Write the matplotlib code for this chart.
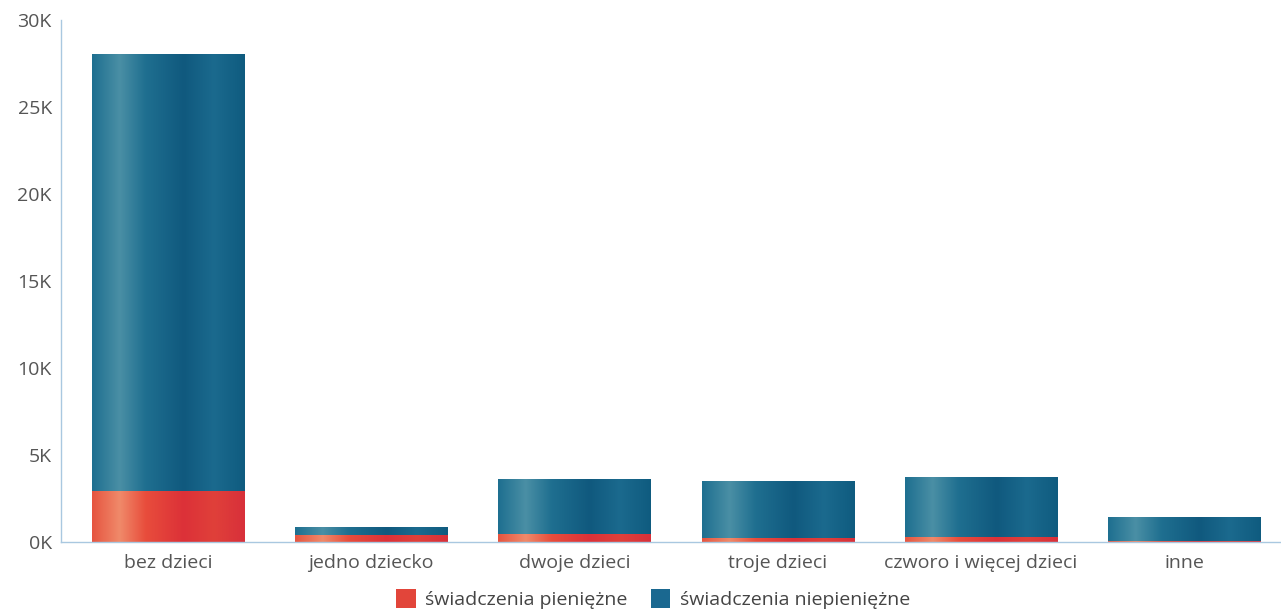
import numpy as np
import matplotlib
matplotlib.use("Agg")
import matplotlib.pyplot as plt
from matplotlib.colors import LinearSegmentedColormap
from matplotlib.patches import Patch

categories = ["bez dzieci", "jedno dziecko", "dwoje dzieci", "troje dzieci",
              "czworo i więcej dzieci", "inne"]
pieniezne = [2900, 350, 450, 200, 250, 50]
niepieniezne = [25100, 500, 3150, 3300, 3450, 1350]
series_names = ["świadczenia pieniężne", "świadczenia niepieniężne"]
yticks = [0, 5000, 10000, 15000, 20000, 25000, 30000]
ytick_labels = ["0K", "5K", "10K", "15K", "20K", "25K", "30K"]

plt.rcParams['font.family'] = ['Open Sans', 'DejaVu Sans']

blue_cmap = LinearSegmentedColormap.from_list(
    "b", [(0.0, "#1e6f90"), (0.18, "#4a8fa5"), (0.35, "#1f6f90"),
          (0.6, "#10597e"), (0.8, "#1b6a8e"), (1.0, "#0f5b7f")])
red_cmap = LinearSegmentedColormap.from_list(
    "r", [(0.0, "#e65440"), (0.18, "#f08a6a"), (0.35, "#e84d3c"),
          (0.6, "#dc3138"), (0.8, "#e0403a"), (1.0, "#d8303a")])

fig = plt.figure(figsize=(12.81, 6.14), dpi=100)
ax = fig.add_axes([0.048, 0.118, 0.952, 0.85])

x = np.arange(len(categories))
width = 0.75
grad = np.linspace(0, 1, 256).reshape(1, -1)

def gradient_bars(bars, cmap):
    for b in bars:
        bx, by = b.get_x(), b.get_y()
        bw, bh = b.get_width(), b.get_height()
        if bh <= 0:
            continue
        im = ax.imshow(grad, cmap=cmap, aspect='auto',
                       extent=[bx, bx + bw, by, by + bh], zorder=2,
                       interpolation='bicubic')
        im.set_clip_path(b)

b1 = ax.bar(x, pieniezne, width, color="none", edgecolor="none", zorder=3)
b2 = ax.bar(x, niepieniezne, width, bottom=pieniezne, color="none",
            edgecolor="none", zorder=3)
gradient_bars(b1, red_cmap)
gradient_bars(b2, blue_cmap)

ax.set_xlim(-0.524, 5.476)
ax.set_ylim(0, 30000)
ax.set_yticks(yticks)
ax.set_yticklabels(ytick_labels)
ax.set_xticks(x)
ax.set_xticklabels(categories)
ax.tick_params(axis='both', length=0, labelsize=14, colors="#555555")
ax.tick_params(axis='x', pad=9)
ax.tick_params(axis='y', pad=7)
for s in ["top", "right"]:
    ax.spines[s].set_visible(False)
for s in ["left", "bottom"]:
    ax.spines[s].set_color("#a9c8e0")
    ax.spines[s].set_linewidth(1.0)

handles = [Patch(facecolor="#e2453a"), Patch(facecolor="#1a6890")]
fig.legend(handles, series_names, loc="lower center", ncol=2, frameon=False,
           fontsize=14, handlelength=1.0, handleheight=1.1, handletextpad=0.5,
           columnspacing=1.2, labelcolor="#444444",
           bbox_to_anchor=(0.51, -0.02))

fig.savefig("out.png", dpi=100)
